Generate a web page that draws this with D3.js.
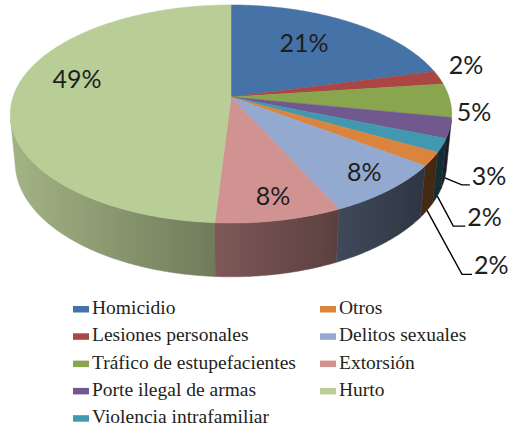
<!DOCTYPE html>
<html>
<head>
<meta charset="utf-8">
<script src="https://cdn.jsdelivr.net/npm/d3@7"></script>
<style>
  body { margin: 0; background: #fff; }
  svg { display: block; }
</style>
</head>
<body>
<svg class="piechart" width="512" height="429"></svg>
<script>

// data (percent of cases)
let categories = [
  "Homicidio", "Lesiones personales", "Tráfico de estupefacientes",
  "Porte ilegal de armas", "Violencia intrafamiliar", "Otros",
  "Delitos sexuales", "Extorsión", "Hurto"
];
let shares = [21, 2, 5, 3, 2, 2, 8, 8, 49];
let shareLabels = ["21%", "2%", "5%", "3%", "2%", "2%", "8%", "8%", "49%"];

let drawPie3d = function()
{
  let svg = d3.select("body").select(".piechart");

  let color = d3.scaleOrdinal()
    .domain(categories)
    .range(["#4572a7", "#aa4643", "#89a54e", "#71588f", "#4198af",
            "#db843d", "#93a9cf", "#d19392", "#b9cd96"]);

  /*
   * the pie is a flat cylinder seen from above with a bit of
   * perspective, like the old excel 3d pies. theta = 0 is the far
   * (top) point of the disc and angles go clockwise.
   */
  let view = {
    cx: 231, cy: 97,      // where the centre of the disc lands
    focal: 1221,
    dist: 5.6,            // camera distance, in disc radii
    tilt: 29.2 * Math.PI / 180,
    depth: 0.26           // thickness of the cylinder
  };

  let project = function(theta, r, y) {
    let x = r * Math.sin(theta);
    let z = -r * Math.cos(theta);
    let d = view.dist - y * Math.sin(view.tilt) - z * Math.cos(view.tilt);
    return [
      view.cx + view.focal * x / d,
      view.cy + view.focal * (z * Math.sin(view.tilt) - y * Math.cos(view.tilt)) / d
    ];
  };

  let arcPoints = function(a0, a1, y) {
    let n = Math.max(2, Math.ceil((a1 - a0) / 0.01));
    return d3.range(n + 1).map(i => project(a0 + (a1 - a0) * i / n, 1, y));
  };

  let pie = d3.pie().sort(null).value(d => d.value);
  let slices = pie(categories.map((c, i) => ({ name: c, value: shares[i], label: shareLabels[i] })));

  let line = d3.line();

  // the outer wall only faces us between these two angles
  let edge = Math.acos(-1 / (view.dist * Math.cos(view.tilt)));

  // light falls from the left: walls get darker to the right
  let light = d3.scaleLinear().domain([10, 452]).range([0.88, 0.28]);
  let shade = function(c, k) {
    let rgb = d3.rgb(c);
    return d3.rgb(rgb.r * k, rgb.g * k, rgb.b * k).formatHex();
  };

  let defs = svg.append("defs");
  slices.forEach((s, i) => {
    let g = defs.append("linearGradient")
      .attr("id", "wall" + i)
      .attr("gradientUnits", "userSpaceOnUse")
      .attr("x1", light.domain()[0]).attr("x2", light.domain()[1])
      .attr("y1", 0).attr("y2", 0);
    g.append("stop").attr("offset", 0).attr("stop-color", shade(color(s.data.name), light.range()[0]));
    g.append("stop").attr("offset", 1).attr("stop-color", shade(color(s.data.name), light.range()[1]));
  });

  let plot = svg.append("g").attr("id", "plot");

  // walls first, far ones before near ones
  let walls = slices
    .map((s, i) => ({ s: s, i: i, a0: Math.max(s.startAngle, edge), a1: Math.min(s.endAngle, 2 * Math.PI - edge) }))
    .filter(w => w.a1 > w.a0)
    .sort((a, b) => Math.abs((b.a0 + b.a1) / 2 - Math.PI) - Math.abs((a.a0 + a.a1) / 2 - Math.PI));

  plot.append("g").attr("id", "walls")
    .selectAll("path")
    .data(walls)
    .join("path")
      .attr("d", w => line(arcPoints(w.a0, w.a1, 0).concat(arcPoints(w.a0, w.a1, -view.depth).reverse())) + "Z")
      .attr("fill", w => "url(#wall" + w.i + ")")
      .attr("stroke", w => "url(#wall" + w.i + ")")
      .attr("stroke-width", 0.5);

  // top of the disc
  plot.append("g").attr("id", "top")
    .selectAll("path")
    .data(slices)
    .join("path")
      .attr("d", s => line([project(0, 0, 0)].concat(arcPoints(s.startAngle, s.endAngle, 0))) + "Z")
      .attr("fill", s => color(s.data.name))
      .attr("stroke", s => color(s.data.name))
      .attr("stroke-width", 0.5);

  /*
   * labels. the big slices carry their label on the disc, two small
   * ones sit just outside the rim, the last three hang off leader
   * lines from the bottom edge of the wall.
   */
  let inside = { "Homicidio": [-13, 0], "Delitos sexuales": [27, 12], "Extorsión": [10, 17], "Hurto": [-2, -16] };
  let outside = { "Lesiones personales": [27, -13], "Tráfico de estupefacientes": [24, 12] };
  let leaders = {
    "Porte ilegal de armas": { elbow: [17, 7], tail: 8 },
    "Violencia intrafamiliar": { elbow: [16, 30], tail: 12 },
    "Otros": { elbow: [35, 64], tail: 10 }
  };

  let labelGroup = plot.append("g").attr("id", "labels")
    .style("font-family", "Lato, 'Open Sans', sans-serif")
    .style("font-size", "25px")
    .style("fill", "#1e1e1e");

  slices.forEach(s => {
    let mid = (s.startAngle + s.endAngle) / 2;
    let name = s.data.name;
    if (inside[name] || outside[name]) {
      let p = inside[name] ? project(mid, 0.7, 0) : project(mid, 1, 0);
      let nudge = inside[name] || outside[name];
      labelGroup.append("text")
        .attr("x", p[0] + nudge[0])
        .attr("y", p[1] + nudge[1])
        .attr("dy", "0.36em")
        .attr("text-anchor", "middle")
        .text(s.data.label);
    } else if (leaders[name]) {
      let l = leaders[name];
      let start = project(mid, 1, -view.depth);
      let elbow = [start[0] + l.elbow[0], start[1] + l.elbow[1]];
      let end = [elbow[0] + l.tail, elbow[1]];
      plot.append("path")
        .attr("d", line([start, elbow, end]))
        .attr("fill", "none")
        .attr("stroke", "#000")
        .attr("stroke-width", 1.4);
      labelGroup.append("text")
        .attr("x", end[0] + 2)
        .attr("y", end[1])
        .attr("text-anchor", "start")
        .text(s.data.label);
    }
  });

  // legend, two columns: five entries then four
  let legend = svg.append("g").attr("id", "legend")
    .style("font-family", "'Liberation Serif', 'Times New Roman', serif")
    .style("font-size", "19.5px")
    .style("fill", "#231f20");

  let rowStep = 27.3;
  let items = legend.selectAll("g")
    .data(categories)
    .join("g")
      .attr("transform", (d, i) => translate(i < 5 ? 73 : 320, 314 + (i % 5) * rowStep));

  items.append("rect")
    .attr("x", 0)
    .attr("y", -8)
    .attr("width", 16)
    .attr("height", 6.5)
    .attr("fill", d => color(d));

  items.append("text")
    .attr("x", 19)
    .attr("y", 0)
    .text(d => d);
};

function translate(x, y) {
  return 'translate(' + x + ',' + y + ')';
}

drawPie3d();
</script>
</body>
</html>
